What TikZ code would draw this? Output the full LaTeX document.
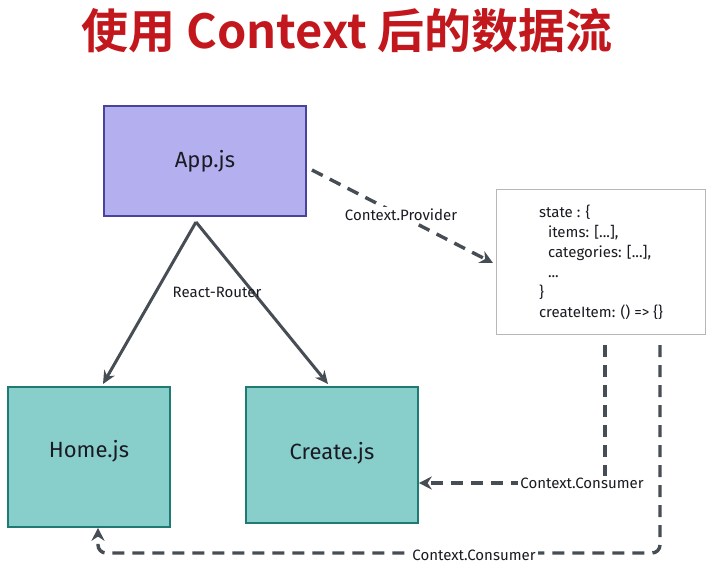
\documentclass[tikz,border=0pt]{standalone}
\usepackage{fontspec}
\setmainfont{Fira Sans}
\newfontfamily\cjk{Noto Sans CJK SC}[BoldFont={Noto Sans CJK SC Bold}]
\usetikzlibrary{arrows.meta,positioning,calc}
\definecolor{titlered}{HTML}{C2171C}
\definecolor{appfill}{HTML}{B4B0F0}
\definecolor{appline}{HTML}{4A439E}
\definecolor{pagefill}{HTML}{88CFCC}
\definecolor{pageline}{HTML}{1E7A72}
\definecolor{conn}{HTML}{474D54}
\definecolor{statebox}{HTML}{B5B8BB}
\definecolor{txt}{HTML}{1A1A22}
\tikzset{
  appbox/.style={draw=appline, line width=1.8pt, fill=appfill, minimum width=202pt, minimum height=110pt, inner sep=0pt, font=\fontsize{22}{26}\selectfont, text=txt},
  pagebox/.style={draw=pageline, line width=1.6pt, fill=pagefill, inner sep=0pt, font=\fontsize{22}{26}\selectfont, text=txt},
  stbox/.style={draw=statebox, line width=1.3pt, fill=white, minimum width=209pt, minimum height=145pt, inner sep=0pt, align=left, font=\fontsize{15}{20}\selectfont, text=txt},
  solidarrow/.style={draw=conn, line width=3pt, -{Stealth[length=13pt,width=12pt]}},
  dasharrow/.style={draw=conn, line width=3.4pt, dash pattern=on 12pt off 8pt, -{Stealth[length=13pt,width=13pt]}},
  lbl/.style={font=\fontsize{15}{17}\selectfont, text=txt, inner sep=2pt},
  lblw/.style={lbl, fill=white},
}
\begin{document}
\begin{tikzpicture}[x=1pt,y=-1pt]
\path[use as bounding box, fill=white] (0,0) rectangle (726,568);

\node[font=\cjk\bfseries\fontsize{47}{50}\selectfont, text=titlered] (title) at (347,31) {使用 Context 后的数据流};

\node[appbox] (app) at (205,161) {App.js};
\node[pagebox, minimum width=162pt, minimum height=140pt, text depth=16pt] (home) at (89,457) {Home.js};
\node[pagebox, minimum width=172pt, minimum height=136pt, text depth=9pt] (create) at (332,455) {Create.js};
\node[stbox] (state) at (601,262) {state : \{\\
\hspace*{9pt}items: [...],\\
\hspace*{9pt}categories: [...],\\
\hspace*{9pt}...\\
\}\\
createItem: () => \{\}};

\coordinate (apex) at (196,222);
\draw[solidarrow] (apex) -- (103,384);
\draw[solidarrow] (apex) -- (328,384);
\node[lbl] (router) at (217,292) {React-Router};

\coordinate (provstart) at (312,170);
\coordinate (provend) at (493,263);
\draw[dasharrow] (provstart) -- (provend);
\node[lblw] (provlbl) at (401,215) {Context.Provider};

\coordinate (c1top) at (605,345);
\coordinate (c1corner) at (605,483);
\draw[dasharrow] (c1top) -- (c1corner) -- (create.east |- c1corner);
\node[lblw] (c1lbl) at (582,483) {Context.Consumer};

\coordinate (c2top) at (660,345);
\coordinate (c2corner) at (660,553);
\coordinate (c2left) at (98,553);
\draw[dasharrow, rounded corners=8pt] (c2top) -- (c2corner) -- (c2left) -- (home.south -| c2left);
\node[lblw] (c2lbl) at (474,555) {Context.Consumer};
\end{tikzpicture}
\end{document}
